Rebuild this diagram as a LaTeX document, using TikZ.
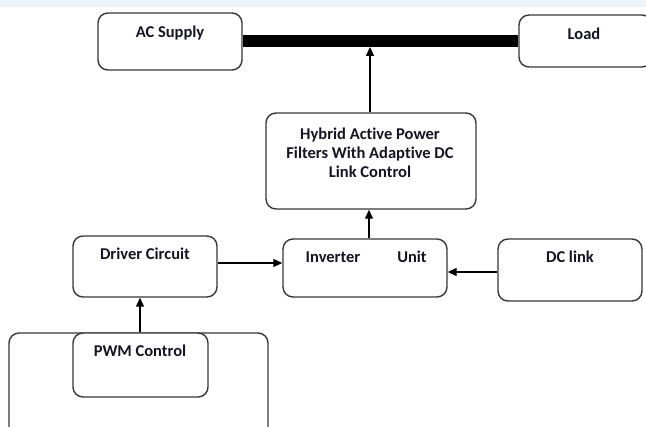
\documentclass[tikz,border=0pt]{standalone}
\usepackage{fontspec}
\setmainfont{Carlito}[Ligatures=NoCommon]
\usetikzlibrary{arrows.meta}
\definecolor{edge}{RGB}{55,55,55}
\definecolor{ink}{RGB}{20,20,35}
\definecolor{band}{RGB}{236,244,249}
\tikzset{
  box/.style={draw=edge, line width=1.4pt, rounded corners=10pt, fill=white, inner sep=0pt},
  lbl/.style={anchor=base, inner sep=0pt, font=\fontsize{16.5}{19}\selectfont\bfseries, text=ink},
  conn/.style={draw=black, line width=1.2pt, -{Triangle[length=9pt,width=8pt]}},
}
\begin{document}
\begin{tikzpicture}[x=1pt,y=-1pt]
\useasboundingbox (0,0) rectangle (646,427);
\fill[band] (0,0) rectangle (646,7);
% boxes
\node[box, minimum width=259pt, minimum height=114pt] (outer) at (138.5,390) {};
\node[box, minimum width=144pt, minimum height=57pt] (ac) at (170,41.5) {};
\node[box, minimum width=133pt, minimum height=52pt] (load) at (585.5,41) {};
\node[box, minimum width=210pt, minimum height=96pt] (hyb) at (371,161) {};
\node[box, minimum width=164pt, minimum height=58pt] (inv) at (365,268) {};
\node[box, minimum width=144pt, minimum height=61pt] (drv) at (145,266.5) {};
\node[box, minimum width=144pt, minimum height=62pt] (dc) at (570,270) {};
\node[box, minimum width=135pt, minimum height=64pt] (pwm) at (140.5,365) {};
% labels
\node[lbl] (acT) at (170,38) {AC Supply};
\node[lbl] (loadT) at (584,40) {Load};
\node[lbl] (hybT1) at (370,140) {Hybrid Active Power};
\node[lbl] (hybT2) at (370,159) {Filters With Adaptive DC};
\node[lbl] (hybT3) at (370,178) {Link Control};
\node[lbl] (invT1) at (333,263) {Inverter};
\node[lbl] (invT2) at (412,263) {Unit};
\node[lbl] (drvT) at (145,260) {Driver Circuit};
\node[lbl] (dcT) at (570,263) {DC link};
\node[lbl] (pwmT) at (140,357) {PWM Control};
% connectors
\draw[line width=12pt] (ac.east |- 0,41) -- (load.west |- 0,41);
\coordinate (busIn) at (370,47);
\draw[conn] (hyb.north -| busIn) -- (busIn);
\draw[conn] (inv.north -| 369,0) -- (hyb.south -| 369,0);
\draw[conn] (drv.east |- 0,263) -- (inv.west |- 0,263);
\draw[conn] (dc.west |- 0,272) -- (inv.east |- 0,272);
\draw[conn] (pwm.north -| 140,0) -- (drv.south -| 140,0);
\end{tikzpicture}
\end{document}
